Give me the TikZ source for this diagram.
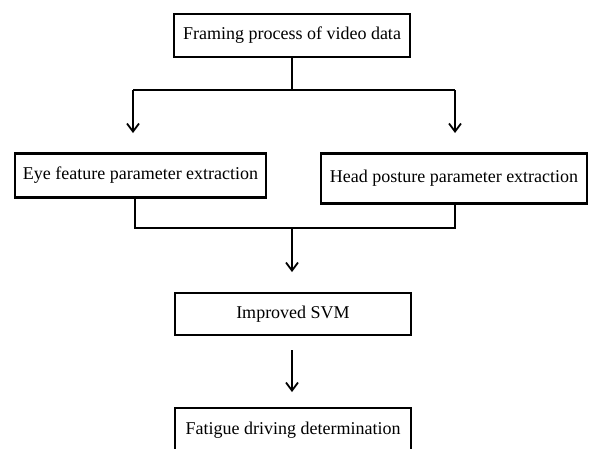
\documentclass[tikz,border=0pt]{standalone}
\usepackage{fontspec}
\setmainfont{Liberation Serif}
\usetikzlibrary{arrows.meta}

\tikzset{
    stagebox/.style={draw, rectangle, line width=1.6pt, fill=white, inner sep=0pt,
        font=\fontsize{18}{22}\selectfont},
    featbox/.style={stagebox, line width=2.6pt},
    flow/.style={line width=1.8pt},
    flowarrow/.style={flow, -{Straight Barb[length=8pt,width=12pt,line width=1.8pt]}}
}

\begin{document}
\begin{tikzpicture}[x=1pt, y=-1pt]
    \useasboundingbox (0,0) rectangle (592,448);
    \clip (0,0) rectangle (592,448);

    % boxes
    \node[stagebox, minimum width=236pt, minimum height=43pt] (frame) at (292,35.5) {Framing process of video data};
    \node[featbox, minimum width=251pt, minimum height=44pt] (eye) at (140.5,175.5) {Eye feature parameter extraction};
    \node[featbox, minimum width=266pt, minimum height=50pt] (head) at (454,178.5) {Head posture parameter extraction};
    \node[stagebox, line width=1.3pt, minimum width=236pt, minimum height=42pt] (svm) at (293,314) {Improved SVM};
    \node[stagebox, line width=1.3pt, minimum width=236pt, minimum height=44pt] (fatigue) at (293,430) {Fatigue driving determination};

    % junction points
    \coordinate (split) at (292,90);
    \coordinate (splitL) at (133,90);
    \coordinate (splitR) at (455,90);
    \coordinate (eyeIn) at (133,133);
    \coordinate (headIn) at (455,133);
    \coordinate (eyeOut) at (135,197);
    \coordinate (headOut) at (455,203);
    \coordinate (joinL) at (135,228);
    \coordinate (joinR) at (455,228);
    \coordinate (join) at (292,228);
    \coordinate (svmIn) at (292,272);
    \coordinate (svmOut) at (292,350);
    \coordinate (fatigueIn) at (292,392);

    % connectors
    \draw[flow] (frame.south) -- (split);
    \draw[flow] (splitL) -- (splitR);
    \draw[flowarrow] (splitL) -- (eyeIn);
    \draw[flowarrow] (splitR) -- (headIn);
    \draw[flow] (eyeOut) -- (joinL) -- (joinR) -- (headOut);
    \draw[flowarrow] (join) -- (svmIn);
    \draw[flowarrow] (svmOut) -- (fatigueIn);
\end{tikzpicture}
\end{document}
